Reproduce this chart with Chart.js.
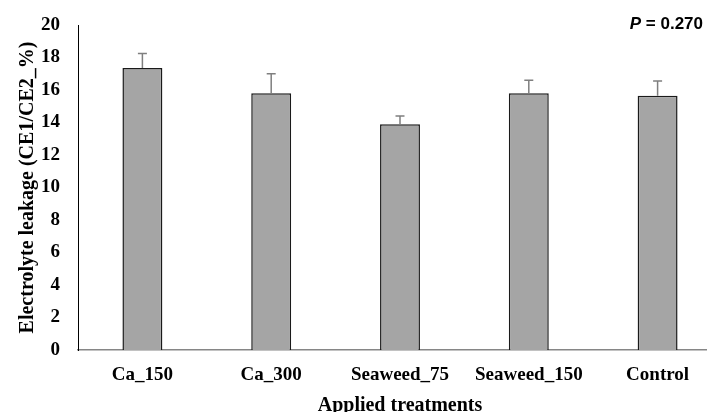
<!DOCTYPE html>
<html>
<head>
<meta charset="utf-8">
<script src="https://cdn.jsdelivr.net/npm/chart.js@4"></script>
<style>
  html, body { margin: 0; padding: 0; background: #fff; overflow: hidden; }
  #wrap { width: 707px; height: 412px; overflow: hidden; }
</style>
</head>
<body>
<div id="wrap"><canvas id="leakChart" width="722" height="412"></canvas></div>
<script>
const treatments = ['Ca_150', 'Ca_300', 'Seaweed_75', 'Seaweed_150', 'Control'];
const leakage = [17.35, 15.8, 13.9, 15.8, 15.65];
const leakageErr = [0.9, 1.2, 0.5, 0.8, 0.9];
const pLabel = '= 0.270';

const serif = "'Liberation Serif', 'Times New Roman', serif";

// upper error bars + P value text
const extras = {
  id: 'extras',
  afterDatasetsDraw(chart) {
    const c = chart.ctx;
    const y = chart.scales.y;
    const meta = chart.getDatasetMeta(0);
    c.save();
    c.strokeStyle = '#7f7f7f';
    c.lineWidth = 1.5;
    meta.data.forEach((bar, i) => {
      const top = y.getPixelForValue(leakage[i] + leakageErr[i]);
      c.beginPath();
      c.moveTo(bar.x, bar.y);
      c.lineTo(bar.x, top);
      c.moveTo(bar.x - 4.5, top);
      c.lineTo(bar.x + 4.5, top);
      c.stroke();
    });
    c.restore();
  },
  afterDraw(chart) {
    const c = chart.ctx;
    c.save();
    c.fillStyle = '#000';
    c.textBaseline = 'alphabetic';
    c.font = "bold 17px 'Liberation Sans', Arial, sans-serif";
    const rest = ' ' + pLabel;
    const wRest = c.measureText(rest).width;
    const xEnd = 703;
    c.textAlign = 'right';
    c.fillText(rest, xEnd, 29);
    c.font = "italic bold 17px 'Liberation Sans', Arial, sans-serif";
    c.fillText('P', xEnd - wRest, 29);
    c.restore();
  }
};

new Chart(document.getElementById('leakChart'), {
  type: 'bar',
  data: {
    labels: treatments,
    datasets: [{
      data: leakage,
      backgroundColor: '#a5a5a5',
      borderColor: '#1a1a1a',
      borderWidth: 1.5,
      barPercentage: 0.31,
      categoryPercentage: 1
    }]
  },
  options: {
    responsive: false,
    animation: false,
    layout: { padding: { top: 25, right: 0, bottom: 0, left: 0 } },
    plugins: { legend: { display: false }, tooltip: { enabled: false } },
    scales: {
      x: {
        grid: { display: false, drawTicks: false },
        border: { color: '#868686', width: 1.5 },
        ticks: { color: '#000', padding: 14, font: { family: serif, size: 19, weight: 'bold' }, maxRotation: 0 },
        title: {
          display: true,
          text: 'Applied treatments',
          color: '#000',
          padding: { top: 0, bottom: 0 },
          font: { family: serif, size: 20, weight: 'bold', lineHeight: 0.6 }
        },
        afterFit(s) { s.height = 62; s.paddingLeft = 0; s.paddingRight = 0; }
      },
      y: {
        min: 0,
        max: 20,
        grid: { display: false, drawTicks: false },
        border: { color: '#000', width: 1 },
        ticks: { stepSize: 2, color: '#000', padding: 18, font: { family: serif, size: 19, weight: 'bold' } },
        title: {
          display: true,
          text: 'Electrolyte leakage (CE1/CE2_%)',
          color: '#000',
          padding: { top: 16, bottom: 0 },
          font: { family: serif, size: 20, weight: 'bold' }
        },
        afterFit(s) { s.width = 78; s.paddingTop = 0; s.paddingBottom = 0; }
      }
    }
  },
  plugins: [extras]
});
</script>
</body>
</html>
